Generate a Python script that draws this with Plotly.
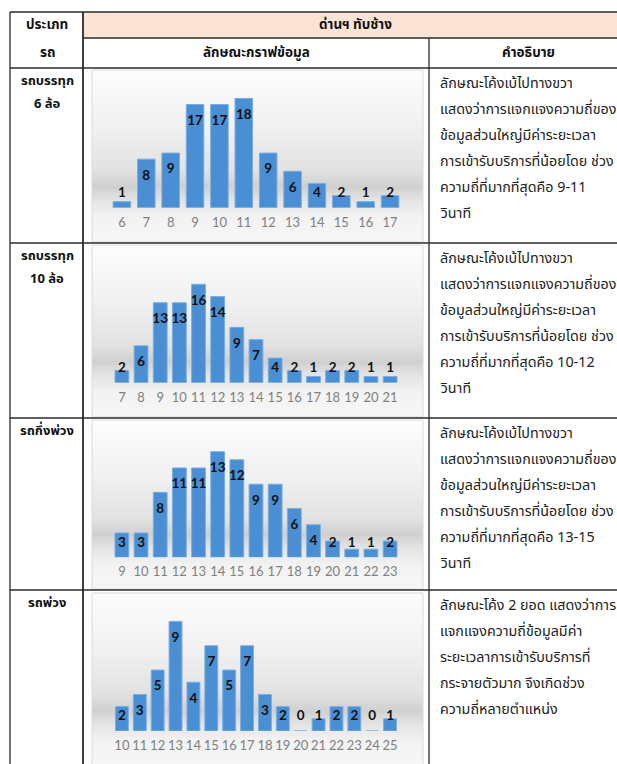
import plotly.graph_objects as go

W, H = 617, 764

# ---- frequency of service duration (seconds) per vehicle type ----
trk6_sec = ["6", "7", "8", "9", "10", "11", "12", "13", "14", "15", "16", "17"]
trk6_cnt = [1, 8, 9, 17, 17, 18, 9, 6, 4, 2, 1, 2]

trk10_sec = ["7", "8", "9", "10", "11", "12", "13", "14", "15", "16", "17", "18", "19", "20", "21"]
trk10_cnt = [2, 6, 13, 13, 16, 14, 9, 7, 4, 2, 1, 2, 2, 1, 1]

semi_sec = ["9", "10", "11", "12", "13", "14", "15", "16", "17", "18", "19", "20", "21", "22", "23"]
semi_cnt = [3, 3, 8, 11, 11, 13, 12, 9, 9, 6, 4, 2, 1, 1, 2]

trail_sec = ["10", "11", "12", "13", "14", "15", "16", "17", "18", "19", "20", "21", "22", "23", "24", "25"]
trail_cnt = [2, 3, 5, 9, 4, 7, 5, 7, 3, 2, 0, 1, 2, 2, 0, 1]

# ---- table text ----
head_type = ["ประเภท", "รถ"]
head_station = "ด่านฯ ทับช้าง"
head_graph = "ลักษณะกราฟข้อมูล"
head_desc = "คำอธิบาย"

row_names = [
    ["รถบรรทุก", "6 ล้อ"],
    ["รถบรรทุก", "10 ล้อ"],
    ["รถกึ่งพ่วง"],
    ["รถพ่วง"],
]

def skew_text(rng):
    return [
        "ลักษณะโค้งเบ้ไปทางขวา",
        "แสดงว่าการแจกแจงความถี่ของ",
        "ข้อมูลส่วนใหญ่มีค่าระยะเวลา",
        "การเข้ารับบริการที่น้อยโดย ช่วง",
        "ความถี่ที่มากที่สุดคือ " + rng,
        "วินาที",
    ]

row_desc = [
    skew_text("9-11"),
    skew_text("10-12"),
    skew_text("13-15"),
    [
        "ลักษณะโค้ง 2 ยอด แสดงว่าการ",
        "แจกแจงความถี่ข้อมูลมีค่า",
        "ระยะเวลาการเข้ารับบริการที่",
        "กระจายตัวมาก จึงเกิดช่วง",
        "ความถี่หลายตำแหน่ง",
    ],
]

# ---- geometry (pixels) ----
TL, C1, C2, TR = 10, 83, 429, 627          # table column edges
R_HEAD1, R_HEAD2 = 12, 38                  # header rows
row_tops = [68, 243, 418, 590]
row_bot = 770

charts = [
    dict(x=trk6_sec, y=trk6_cnt, frame=(70, 242), plot=(86.3, 207.7), ymax=20),
    dict(x=trk10_sec, y=trk10_cnt, frame=(245, 417), plot=(272.0, 382.7), ymax=18),
    dict(x=semi_sec, y=semi_cnt, frame=(420, 589), plot=(443.6, 557.3), ymax=14),
    dict(x=trail_sec, y=trail_cnt, frame=(593, 766), plot=(609.2, 731.0), ymax=10),
]
FRAME_X = (92, 423)
PLOT_X = (107.0, 405.0)

THAI = "Tahoma, 'Noto Sans Thai', 'Noto Sans Thai UI', 'Loma', 'Garuda', sans-serif"
NUM = "Lato, Carlito, Calibri, sans-serif"


def px(x):
    return x / W


def py(y):
    return 1 - y / H


# chart background gradient (fraction from top, grey level)
grad_stops = [(0.0, 253), (0.35, 240), (0.58, 226), (0.68, 208), (0.75, 226),
              (0.85, 242), (1.0, 247)]


def grey_at(t):
    for (t0, g0), (t1, g1) in zip(grad_stops[:-1], grad_stops[1:]):
        if t0 <= t <= t1:
            g = g0 + (g1 - g0) * (t - t0) / (t1 - t0)
            g = int(round(g))
            return f"rgb({g},{g},{g})"
    return "rgb(247,247,247)"


fig = go.Figure()
shapes = []
annotations = []

for i, ch in enumerate(charts):
    ftop, fbot = ch["frame"]
    ptop, pbase = ch["plot"]
    n = "" if i == 0 else str(i + 1)
    # gradient strips
    step = 2
    y = ftop
    while y < fbot:
        t = (y - ftop + step / 2) / (fbot - ftop)
        shapes.append(dict(type="rect", xref="paper", yref="paper", layer="below",
                           x0=px(FRAME_X[0]), x1=px(FRAME_X[1]),
                           y0=py(min(y + step + 0.6, fbot)), y1=py(y),
                           line=dict(width=0), fillcolor=grey_at(t)))
        y += step
    shapes.append(dict(type="rect", xref="paper", yref="paper", layer="below",
                       x0=px(FRAME_X[0]), x1=px(FRAME_X[1]), y0=py(fbot), y1=py(ftop),
                       line=dict(width=1, color="#d9d9d9"), fillcolor="rgba(0,0,0,0)"))

    xa, ya = "x" + n, "y" + n
    fig.add_trace(go.Bar(x=ch["x"], y=ch["y"], xaxis=xa, yaxis=ya,
                         marker=dict(color="#4a8ed3", line=dict(color="#79aee2", width=1)),
                         showlegend=False, hoverinfo="skip"))
    # value labels sit inside the top of each bar, kept clear of the baseline
    ppu = (pbase - ptop) / ch["ymax"]
    lab_y = [max(v - 17 / ppu, 14 / ppu) for v in ch["y"]]
    fig.add_trace(go.Scatter(x=ch["x"], y=lab_y, xaxis=xa, yaxis=ya, mode="text",
                             text=[str(v) for v in ch["y"]],
                             textfont=dict(family=NUM, size=13.5, color="#111111", weight=700),
                             cliponaxis=False, showlegend=False, hoverinfo="skip"))
    fig.layout["xaxis" + n] = dict(domain=[px(PLOT_X[0]), px(PLOT_X[1])], anchor=ya,
                                   type="category", showgrid=False, zeroline=False,
                                   showline=False, ticks="", ticklabelstandoff=5,
                                   tickfont=dict(family=NUM, size=13, color="#808080"),
                                   fixedrange=True)
    fig.layout["yaxis" + n] = dict(domain=[py(pbase), py(ptop)], anchor=xa,
                                   range=[0, ch["ymax"]], visible=False, fixedrange=True)

# ---- table ----
shapes.append(dict(type="rect", xref="paper", yref="paper", layer="below",
                   x0=px(C1), x1=px(TR), y0=py(R_HEAD2), y1=py(R_HEAD1),
                   line=dict(width=0), fillcolor="#fbe4d5"))
LC = "#2b2b2b"


def hline(y, x0, x1, w=1.3):
    shapes.append(dict(type="line", xref="paper", yref="paper", x0=px(x0), x1=px(x1),
                       y0=py(y), y1=py(y), line=dict(color=LC, width=w)))


def vline(x, y0, y1, w=1.3):
    shapes.append(dict(type="line", xref="paper", yref="paper", x0=px(x), x1=px(x),
                       y0=py(y0), y1=py(y1), line=dict(color=LC, width=w)))


hline(R_HEAD1, TL, TR)
hline(R_HEAD2, C1, TR)
for rt in row_tops:
    hline(rt, TL, TR)
vline(TL, R_HEAD1, row_bot)
vline(C1, R_HEAD1, row_bot, 1.8)
vline(C2, R_HEAD2, row_bot)


def text(x, y, s, anchor="center", bold=False, size=13.5, color="#111111"):
    annotations.append(dict(xref="paper", yref="paper", x=px(x), y=py(y), text=s,
                            showarrow=False, xanchor=anchor, yanchor="middle",
                            font=dict(family=THAI, size=size, color=color,
                                      weight=700 if bold else 400)))


text(47, 25, head_type[0], bold=True)
text(47, 53, head_type[1], bold=True)
text((C1 + TR) / 2, 25, head_station, bold=True)
text((C1 + C2) / 2, 53, head_graph, bold=True)
text((C2 + TR) / 2, 53, head_desc, bold=True)

for rt, names, desc in zip(row_tops, row_names, row_desc):
    for k, s in enumerate(names):
        text(47, rt + 13 + 23 * k, s, bold=True, size=13)
    for k, s in enumerate(desc):
        text(438, rt + 15 + 26 * k, s, anchor="left", size=14.3, color="#222222")

fig.update_layout(width=W, height=H, margin=dict(l=0, r=0, t=0, b=0),
                  paper_bgcolor="white", plot_bgcolor="rgba(0,0,0,0)",
                  bargap=0.28, shapes=shapes, annotations=annotations,
                  showlegend=False)

fig.write_html("out.html", config=dict(displayModeBar=False))
